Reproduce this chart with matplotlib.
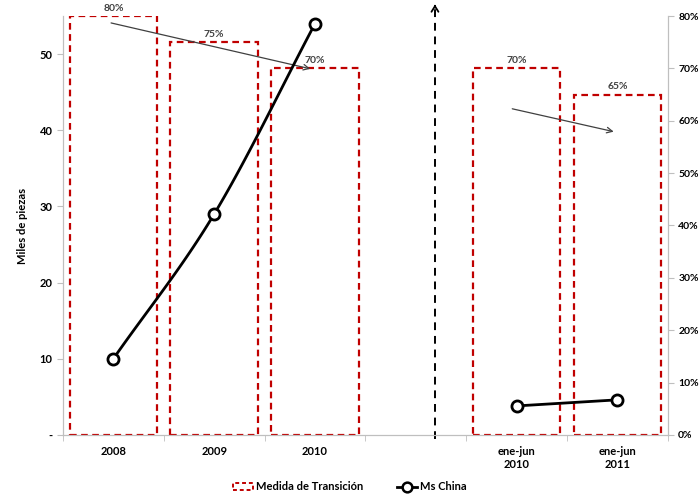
import numpy as np
import matplotlib
matplotlib.use("Agg")
import matplotlib.pyplot as plt
from matplotlib.lines import Line2D
from matplotlib.patches import Patch

plt.rcParams['font.family'] = ['Lato', 'DejaVu Sans']
plt.rcParams['font.weight'] = 'bold'

# data
categories = ['2008', '2009', '2010', '', 'ene-jun\n2010', 'ene-jun\n2011']
medida = [0.80, 0.75, 0.70, np.nan, 0.70, 0.65]   # right axis (share)
ms_china = [10.0, 29.0, 54.0, np.nan, 3.8, 4.6]     # left axis (miles de piezas)
medida_labels = ['80%', '75%', '70%', '', '70%', '65%']

RED = '#c00000'
GRAY = '#bfbfbf'


def catmull_rom(xs, ys, n=30):
    # smooth line through the points, like excel "smoothed line"
    xs = np.asarray(xs, float)
    ys = np.asarray(ys, float)
    px = np.concatenate([[2 * xs[0] - xs[1]], xs, [2 * xs[-1] - xs[-2]]])
    py = np.concatenate([[2 * ys[0] - ys[1]], ys, [2 * ys[-1] - ys[-2]]])
    out_x, out_y = [], []
    t = np.linspace(0, 1, n)
    for i in range(1, len(px) - 2):
        for p, out in ((px, out_x), (py, out_y)):
            p0, p1, p2, p3 = p[i - 1], p[i], p[i + 1], p[i + 2]
            out.extend(0.5 * ((2 * p1) + (-p0 + p2) * t
                              + (2 * p0 - 5 * p1 + 4 * p2 - p3) * t ** 2
                              + (-p0 + 3 * p1 - 3 * p2 + p3) * t ** 3))
    return np.array(out_x), np.array(out_y)


fig = plt.figure(figsize=(7.0, 5.01), dpi=100)
ax = fig.add_axes([0.09, 0.132, 0.864, 0.836])
ax2 = ax.twinx()

x = np.arange(len(categories))

# bars on the secondary (percent) axis
ax2.bar(x, medida, width=0.87, facecolor='white', edgecolor=RED,
        linestyle=(0, (3, 2)), linewidth=1.6, zorder=1)
for xi, v, lab in zip(x, medida, medida_labels):
    if lab:
        ax2.text(xi, v + 0.006, lab, ha='center', va='bottom', fontsize=7.5,
                 color='#404040')

ax2.set_ylim(0, 0.80)
ax2.set_yticks(np.arange(0, 0.81, 0.1))
ax2.set_yticklabels(['%d%%' % round(v * 100) for v in np.arange(0, 0.81, 0.1)])

# line on the primary axis, drawn above the bars
ax.set_zorder(ax2.get_zorder() + 1)
ax.patch.set_visible(False)

seg1 = [i for i in range(3)]
sx, sy = catmull_rom(x[seg1], [ms_china[i] for i in seg1])
ax.plot(sx, sy, color='black', linewidth=2)
seg2 = [4, 5]
ax.plot(x[seg2], [ms_china[i] for i in seg2], color='black', linewidth=2)
pts = [i for i in range(len(x)) if not np.isnan(ms_china[i])]
ax.plot(x[pts], [ms_china[i] for i in pts], linestyle='none', marker='o',
        markersize=8, markerfacecolor='white', markeredgecolor='black',
        markeredgewidth=2)

ax.set_ylim(0, 55)
ax.set_yticks([0, 10, 20, 30, 40, 50])
ax.set_yticklabels(['-', '10', '20', '30', '40', '50'])
ax.set_xlim(-0.5, len(categories) - 0.5)
ax.set_xticks(x)
ax.set_xticklabels(categories)
ax.set_xticks(np.arange(-0.5, len(categories), 1), minor=True)
ax.tick_params(axis='x', which='major', length=0, pad=8)
ax.tick_params(axis='x', which='minor', length=4, color=GRAY)
ax.set_ylabel('Miles de piezas', fontsize=8, fontweight='bold', labelpad=8)

for a in (ax, ax2):
    for side in ('top',):
        a.spines[side].set_visible(False)
    for side in ('left', 'right', 'bottom'):
        a.spines[side].set_color(GRAY)
    a.tick_params(axis='y', length=4, color=GRAY, labelsize=8)
ax.tick_params(axis='x', labelsize=8)
ax2.tick_params(axis='y', labelsize=7.5)

# trend arrows
ax2.annotate('', xy=(1.98, 0.698), xytext=(-0.05, 0.788),
             arrowprops=dict(arrowstyle='->', color='#404040', lw=0.9))
ax2.annotate('', xy=(4.99, 0.578), xytext=(3.93, 0.624),
             arrowprops=dict(arrowstyle='->', color='#404040', lw=0.9))

# dashed divider arrow between annual and half-year data
ax2.plot([3.19, 3.19], [-0.008, 0.815], color='black', lw=1.4,
         linestyle=(0, (4, 3)), clip_on=False)
ax2.annotate('', xy=(3.19, 0.822), xytext=(3.19, 0.812),
             arrowprops=dict(arrowstyle='->,head_length=0.4,head_width=0.25',
                             color='black', lw=1.3),
             annotation_clip=False)

handles = [Patch(facecolor='white', edgecolor=RED, linestyle=(0, (2, 1.5)),
                 linewidth=1.4, label='Medida de Transición'),
           Line2D([], [], color='black', linewidth=2, marker='o',
                  markersize=7, markerfacecolor='white', markeredgewidth=1.8,
                  label='Ms China')]
fig.legend(handles=handles, loc='center', bbox_to_anchor=(0.5, 0.028),
           ncol=2, frameon=False, fontsize=8, handlelength=1.8,
           columnspacing=3.0, handletextpad=0.3)

fig.savefig('out.png', dpi=100)
